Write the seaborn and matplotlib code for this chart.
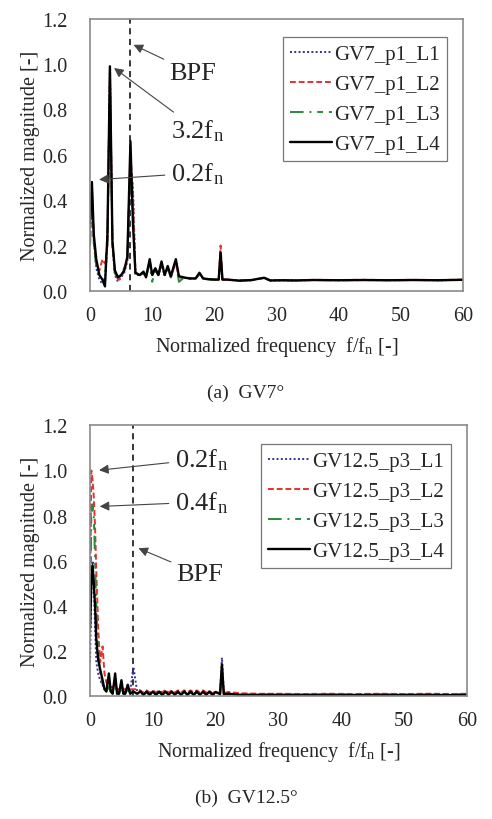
import seaborn as sns
import matplotlib.pyplot as plt
import pandas as pd

# panel (a) GV7 spectra
freq_a = [0, 0.3, 0.6, 1.0, 1.5, 2.0, 2.4, 2.8, 3.2, 3.6, 4.0, 4.5, 5.0, 5.5, 6.0, 6.5, 6.9, 7.3,
          8.0, 8.6, 9.0, 9.6, 10.0, 10.5, 11.0, 11.5, 12.0, 12.5, 13.0, 13.8, 14.3, 15, 16, 17, 17.6, 18.2,
          19, 20, 20.7, 21, 21.3, 22, 24, 26, 28, 29, 31, 33, 36, 40, 44, 48, 52, 56, 60]
a_L1 = [0.22, 0.45, 0.22, 0.10, 0.05, 0.03, 0.04, 0.22, 0.98, 0.20, 0.07, 0.04, 0.06, 0.08, 0.13, 0.55, 0.46, 0.07,
        0.07, 0.08, 0.06, 0.13, 0.07, 0.09, 0.07, 0.12, 0.07, 0.10, 0.06, 0.13, 0.06, 0.058, 0.055, 0.054, 0.075, 0.054,
        0.051, 0.05, 0.05, 0.16, 0.05, 0.05, 0.046, 0.047, 0.057, 0.046, 0.047, 0.046, 0.048, 0.047, 0.048, 0.047, 0.048, 0.047, 0.049]
a_L2 = [0.24, 0.46, 0.22, 0.12, 0.09, 0.14, 0.12, 0.20, 0.97, 0.21, 0.08, 0.05, 0.06, 0.09, 0.14, 0.60, 0.43, 0.08,
        0.07, 0.08, 0.06, 0.13, 0.08, 0.10, 0.07, 0.12, 0.07, 0.10, 0.06, 0.13, 0.06, 0.06, 0.055, 0.055, 0.078, 0.055,
        0.052, 0.05, 0.05, 0.20, 0.05, 0.05, 0.047, 0.048, 0.058, 0.047, 0.048, 0.047, 0.049, 0.048, 0.049, 0.048, 0.049, 0.048, 0.05]
a_L3 = [0.20, 0.44, 0.21, 0.11, 0.06, 0.05, 0.05, 0.21, 0.96, 0.20, 0.08, 0.05, 0.07, 0.10, 0.14, 0.58, 0.35, 0.07,
        0.07, 0.08, 0.06, 0.12, 0.04, 0.09, 0.07, 0.12, 0.07, 0.10, 0.06, 0.13, 0.04, 0.056, 0.054, 0.054, 0.075, 0.054,
        0.051, 0.049, 0.05, 0.15, 0.05, 0.05, 0.046, 0.047, 0.056, 0.046, 0.047, 0.046, 0.048, 0.047, 0.048, 0.047, 0.048, 0.047, 0.049]
a_L4 = [0.30, 0.48, 0.25, 0.14, 0.07, 0.05, 0.02, 0.25, 0.99, 0.22, 0.09, 0.06, 0.07, 0.09, 0.15, 0.66, 0.30, 0.08,
        0.07, 0.085, 0.06, 0.14, 0.07, 0.10, 0.07, 0.13, 0.07, 0.11, 0.065, 0.14, 0.065, 0.06, 0.055, 0.055, 0.08, 0.055,
        0.052, 0.05, 0.05, 0.17, 0.05, 0.05, 0.045, 0.048, 0.058, 0.046, 0.047, 0.046, 0.048, 0.047, 0.048, 0.047, 0.048, 0.047, 0.049]

# panel (b) GV12.5 spectra
freq_b = [0, 0.2, 0.4, 0.6, 0.8, 1.0, 1.3, 1.6, 2.0, 2.3, 2.6, 3.0, 3.3, 3.6, 4.0, 4.3, 4.6, 5.0, 5.3, 5.6,
          6.0, 6.4, 6.9, 7.5, 8, 8.5, 9, 9.5, 10, 10.5, 11, 11.5, 12, 12.5, 13, 13.5, 14, 14.5, 15, 15.5,
          16, 16.5, 17, 17.5, 18, 18.5, 19, 19.5, 20, 20.7, 21, 21.3, 22, 24, 27, 30, 34, 38, 42, 46, 50, 54, 58, 60]
b_L1 = [0.15, 0.45, 0.60, 0.50, 0.30, 0.15, 0.10, 0.07, 0.05, 0.03, 0.03, 0.06, 0.02, 0.02, 0.07, 0.02, 0.02, 0.05, 0.02, 0.02,
        0.04, 0.02, 0.13, 0.02, 0.02, 0.008, 0.018, 0.008, 0.018, 0.008, 0.018, 0.008, 0.018, 0.008, 0.018, 0.008, 0.018, 0.008, 0.018, 0.008,
        0.018, 0.008, 0.018, 0.008, 0.018, 0.008, 0.018, 0.008, 0.015, 0.01, 0.17, 0.01, 0.012, 0.008, 0.007, 0.007, 0.006, 0.007, 0.006, 0.007, 0.006, 0.007, 0.006, 0.007]
b_L2 = [0.40, 1.00, 0.96, 0.88, 0.75, 0.55, 0.30, 0.15, 0.22, 0.10, 0.06, 0.05, 0.04, 0.04, 0.05, 0.03, 0.03, 0.04, 0.03, 0.03,
        0.03, 0.03, 0.03, 0.03, 0.025, 0.015, 0.025, 0.015, 0.025, 0.015, 0.025, 0.015, 0.028, 0.015, 0.025, 0.015, 0.025, 0.015, 0.025, 0.015,
        0.025, 0.015, 0.025, 0.015, 0.025, 0.015, 0.022, 0.012, 0.02, 0.012, 0.12, 0.012, 0.018, 0.012, 0.01, 0.01, 0.009, 0.01, 0.009, 0.01, 0.009, 0.01, 0.009, 0.01]
b_L3 = [0.30, 0.80, 0.85, 0.80, 0.60, 0.40, 0.20, 0.10, 0.05, 0.03, 0.02, 0.04, 0.02, 0.02, 0.04, 0.01, 0.01, 0.03, 0.01, 0.01,
        0.03, 0.01, 0.02, 0.01, 0.015, 0.006, 0.015, 0.006, 0.015, 0.006, 0.015, 0.006, 0.015, 0.006, 0.015, 0.006, 0.015, 0.006, 0.015, 0.006,
        0.015, 0.006, 0.015, 0.006, 0.015, 0.006, 0.015, 0.006, 0.012, 0.008, 0.10, 0.008, 0.01, 0.006, 0.006, 0.007, 0.006, 0.006, 0.007, 0.006, 0.007, 0.006, 0.008, 0.006]
b_L4 = [0.30, 0.50, 0.58, 0.50, 0.40, 0.25, 0.16, 0.12, 0.07, 0.03, 0.02, 0.10, 0.02, 0.01, 0.10, 0.01, 0.01, 0.07, 0.01, 0.01,
        0.05, 0.01, 0.02, 0.01, 0.02, 0.005, 0.02, 0.005, 0.02, 0.005, 0.02, 0.005, 0.02, 0.005, 0.02, 0.005, 0.02, 0.005, 0.02, 0.005,
        0.02, 0.005, 0.02, 0.005, 0.02, 0.005, 0.02, 0.005, 0.018, 0.008, 0.14, 0.008, 0.01, 0.005, 0.005, 0.005, 0.004, 0.005, 0.004, 0.005, 0.004, 0.005, 0.004, 0.005]

bpf_a = 6.4
bpf_b = 6.85

sns.set_theme(style="white")
plt.rcParams['font.family'] = ['Liberation Serif', 'DejaVu Serif']
plt.rcParams['mathtext.fontset'] = 'stix'

colors = ['#33339a', '#e8302c', '#2a8a3a', 'black']
styles = [(0, (1, 1.2)), (0, (3, 1.5)), (0, (7, 3, 1, 3, 3, 3)), '-']
widths = [1.4, 1.4, 1.4, 1.7]

fig = plt.figure(figsize=(4.92, 8.2), dpi=100)
ax1 = fig.add_axes([0.183, 0.644, 0.758, 0.332])
ax2 = fig.add_axes([0.183, 0.150, 0.766, 0.330])


def draw(ax, freq, series, names, bpf):
    for ys, c, ls, lw, n in zip(series, colors, styles, widths, names):
        df = pd.DataFrame({'f': freq, 'm': ys})
        sns.lineplot(data=df, x='f', y='m', ax=ax, color=c, linestyle=ls, lw=lw, label=n)
    ax.axvline(bpf, color='black', ls=(0, (4, 3)), lw=1.1, zorder=0)
    ax.set_xlim(0, 60)
    ax.set_ylim(0, 1.2)
    ax.set_xticks([0, 10, 20, 30, 40, 50, 60])
    ax.set_yticks([0, 0.2, 0.4, 0.6, 0.8, 1.0, 1.2])
    ax.set_yticklabels(['0.0', '0.2', '0.4', '0.6', '0.8', '1.0', '1.2'])
    ax.tick_params(direction='in', length=4, labelsize=14.5, color='#555555')
    ax.tick_params(axis='x', pad=11)
    ax.tick_params(axis='y', pad=16)
    ax.set_xlabel('Normalized frequency  f/f$_\\mathregular{n}$ [-]', fontsize=14.5, labelpad=6)
    ax.set_ylabel('Normalized magnitude [-]', fontsize=14.5, labelpad=2)
    for s in ax.spines.values():
        s.set_color('#8a8a8a')
        s.set_linewidth(1.2)
    leg = ax.legend(loc='upper right', fontsize=15, frameon=True, fancybox=False,
                    handlelength=2.0, handletextpad=0.1, borderpad=0.35, labelspacing=0.5,
                    bbox_to_anchor=(0.985, 0.97))
    leg.get_frame().set_edgecolor('#555555')
    leg.get_frame().set_linewidth(0.9)


draw(ax1, freq_a, [a_L1, a_L2, a_L3, a_L4], ['GV7_p1_L1', 'GV7_p1_L2', 'GV7_p1_L3', 'GV7_p1_L4'], bpf_a)
draw(ax2, freq_b, [b_L1, b_L2, b_L3, b_L4],
     ['GV12.5_p3_L1', 'GV12.5_p3_L2', 'GV12.5_p3_L3', 'GV12.5_p3_L4'], bpf_b)

arrow = dict(arrowstyle='-|>', color='#444444', lw=0.8, mutation_scale=14)
fsz = 19
ax1.annotate('BPF', xy=(6.6, 1.09), xytext=(12.8, 0.96), fontsize=fsz, ha='left', va='center', arrowprops=arrow)
ax1.annotate('3.2f$_\\mathregular{n}$', xy=(3.5, 0.99), xytext=(13.0, 0.71), fontsize=fsz, ha='left', va='center', arrowprops=arrow)
ax1.annotate('0.2f$_\\mathregular{n}$', xy=(1.0, 0.49), xytext=(13.0, 0.52), fontsize=fsz, ha='left', va='center', arrowprops=arrow)

ax2.annotate('0.2f$_\\mathregular{n}$', xy=(1.0, 1.0), xytext=(13.5, 1.05), fontsize=fsz, ha='left', va='center', arrowprops=arrow)
ax2.annotate('0.4f$_\\mathregular{n}$', xy=(1.1, 0.84), xytext=(13.5, 0.86), fontsize=fsz, ha='left', va='center', arrowprops=arrow)
ax2.annotate('BPF', xy=(7.3, 0.66), xytext=(13.8, 0.54), fontsize=fsz, ha='left', va='center', arrowprops=arrow)

fig.text(0.5, 1 - 393 / 820, '(a)  GV7°', ha='center', va='center', fontsize=14)
fig.text(0.5, 1 - 798 / 820, '(b)  GV12.5°', ha='center', va='center', fontsize=14)

fig.savefig('out.png', dpi=100)
